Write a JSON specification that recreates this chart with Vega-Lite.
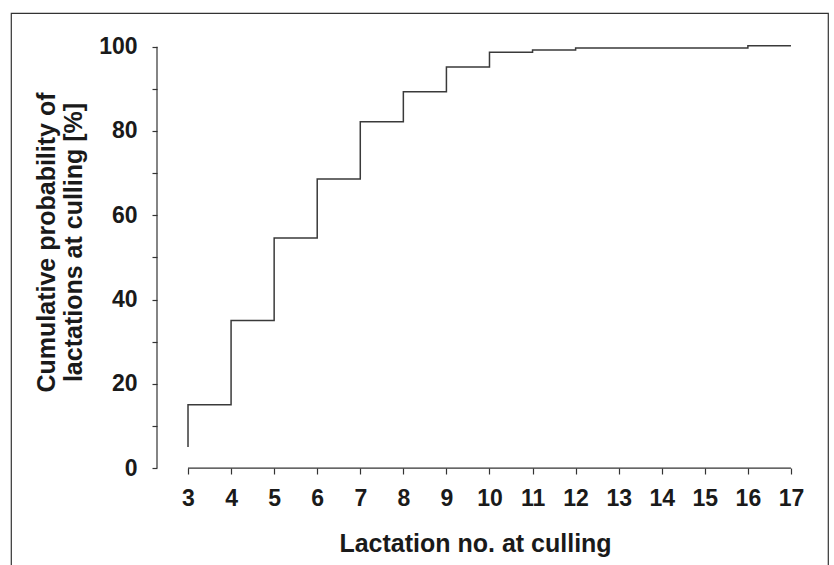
{
  "$schema": "https://vega.github.io/schema/vega-lite/v6.json",
  "width": 817,
  "height": 553,
  "autosize": {"type": "none"},
  "padding": {"left": 11, "top": 13, "right": 6, "bottom": 0},
  "background": "white",
  "config": {
    "view": {"stroke": "#333333", "strokeWidth": 1.2},
    "font": "Liberation Sans",
    "axis": {
      "labelFont": "Liberation Sans",
      "labelFontWeight": "bold",
      "labelFontSize": 23,
      "labelColor": "#1a1a1a",
      "titleFont": "Liberation Sans",
      "titleFontWeight": "bold",
      "titleFontSize": 25,
      "titleColor": "#1a1a1a",
      "tickColor": "#333333",
      "tickWidth": 1.2,
      "grid": false,
      "domain": false
    }
  },
  "datasets": {
    "steps": [
      {"lact": 3, "p": 5, "i": 0},
      {"lact": 3, "p": 15, "i": 1},
      {"lact": 4, "p": 35, "i": 2},
      {"lact": 5, "p": 54.6, "i": 3},
      {"lact": 6, "p": 68.6, "i": 4},
      {"lact": 7, "p": 82.2, "i": 5},
      {"lact": 8, "p": 89.3, "i": 6},
      {"lact": 9, "p": 95.2, "i": 7},
      {"lact": 10, "p": 98.7, "i": 8},
      {"lact": 11, "p": 99.2, "i": 9},
      {"lact": 12, "p": 99.7, "i": 10},
      {"lact": 16, "p": 100.2, "i": 11},
      {"lact": 17, "p": 100.2, "i": 12}
    ],
    "axislines": [
      {"x": 2.28, "x2": 2.28, "y": 0, "y2": 100},
      {"x": 3, "x2": 17, "y": 0, "y2": 0}
    ]
  },
  "layer": [
    {
      "data": {"name": "axislines"},
      "mark": {"type": "rule", "color": "#333333", "strokeWidth": 1.2},
      "encoding": {
        "x": {"field": "x", "type": "quantitative", "scale": {"domain": [-1.11, 17.86], "nice": false, "zero": false}},
        "x2": {"field": "x2"},
        "y": {"field": "y", "type": "quantitative", "scale": {"domain": [-23.25, 108], "nice": false, "zero": false}},
        "y2": {"field": "y2"}
      }
    },
    {
      "data": {"name": "steps"},
      "mark": {"type": "line", "interpolate": "step-after", "color": "#3a3a3a", "strokeWidth": 1.5},
      "encoding": {
        "x": {
          "field": "lact", "type": "quantitative",
          "scale": {"domain": [-1.11, 17.86], "nice": false, "zero": false},
          "axis": {
            "orient": "bottom",
            "offset": -98,
            "values": [3, 4, 5, 6, 7, 8, 9, 10, 11, 12, 13, 14, 15, 16, 17],
            "tickSize": 6,
            "labelPadding": 13,
            "title": "Lactation no. at culling",
            "titleX": 464,
            "titleY": 75,
            "titleBaseline": "middle",
            "titleAnchor": null
          }
        },
        "y": {
          "field": "p", "type": "quantitative",
          "scale": {"domain": [-23.25, 108], "nice": false, "zero": false},
          "axis": {
            "orient": "left",
            "offset": -146,
            "values": [0, 10, 20, 30, 40, 50, 60, 70, 80, 90, 100],
            "labelExpr": "datum.value % 20 === 0 ? datum.label : ''",
            "tickSize": 5,
            "labelPadding": 15,
            "title": ["Cumulative probability of", "lactations at culling [%]"],
            "titleAngle": -90,
            "titleX": -111,
            "titleY": 229,
            "titleBaseline": "middle",
            "titleAlign": "center",
            "titleLineHeight": 27
          }
        },
        "order": {"field": "i", "type": "quantitative"}
      }
    }
  ]
}
